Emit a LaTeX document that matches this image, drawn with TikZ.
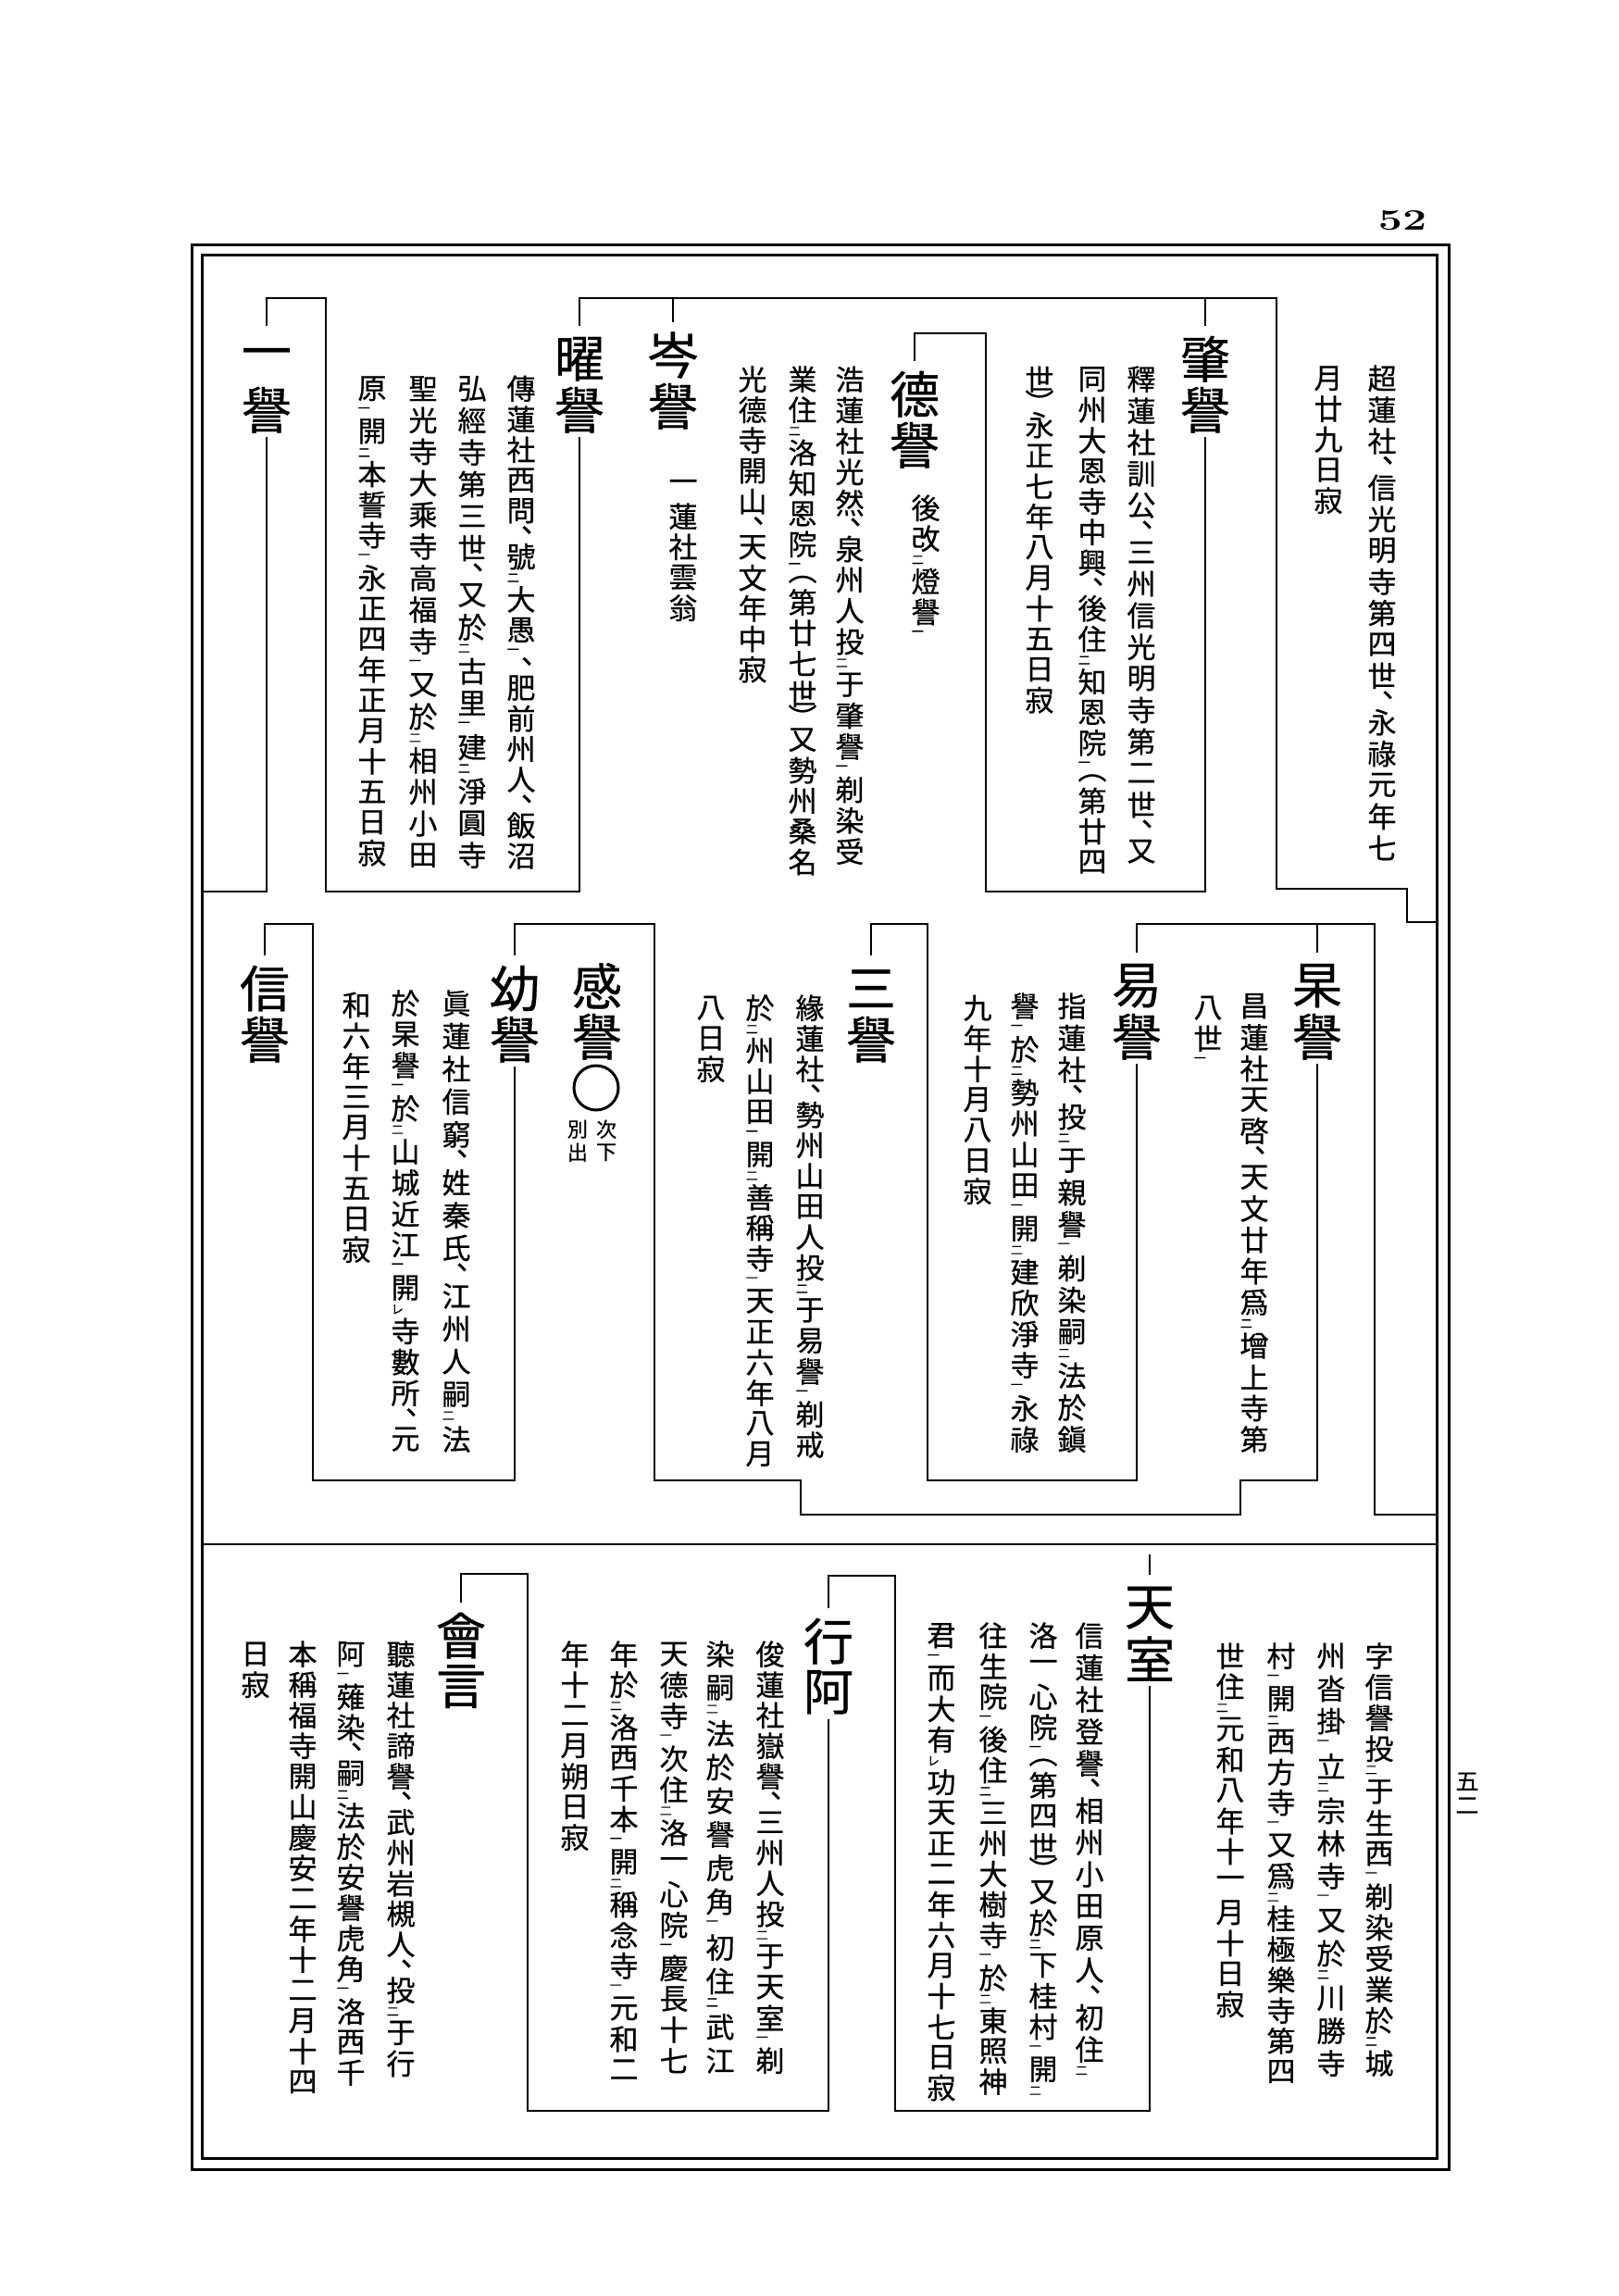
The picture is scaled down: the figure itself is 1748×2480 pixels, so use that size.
\documentclass[tikz,border=0pt]{standalone}
\usepackage{graphicx}
\usepackage{fontspec}
\newfontfamily\cjk[FakeBold=0.6]{Noto Sans CJK JP}
\newlength\vcw \newlength\vch
\newif\ifvjust
\def\vtEND{}
\def\vtendmac{\vtEND}
\def\kten{}
\newcommand\kf{\fontsize{13}{13}\selectfont}
\def\vtloop#1{\def\vttmp{#1}\ifx\vttmp\vtendmac\else\vtchar#1\relax\expandafter\vtloop\fi}
\def\vtchar#1#2\relax{%
 \ifx\kten#1\vtsmall{#2}\else
 \ifx 、#1\vtcomma{#1}\else
 \ifx ︵#1\vthalf{#1}\else
 \ifx ︶#1\vthalf{#1}\else
 \vtnorm{#1}\fi\fi\fi\fi}
\def\vtnorm#1{\ifvjust\vskip0pt plus1fil\relax\fi\vbox to\vch{\vss\hbox to\vcw{\hss#1\hss}\vss}}
\def\vtsmall#1{\vbox to0.4\vch{\vss\hbox to\vcw{\hskip0.04\vcw{\kf#1}\hss}\vss}}
\def\vtcomma#1{\vbox to0.5\vch{\kern0pt\hbox to\vcw{\hskip0.5\vcw\rlap{#1}\hss}\vss}}
\def\vthalf#1{\vbox to0.5\vch{\vss\hbox to\vcw{\hss#1\hss}\vss}}
\newcommand\vcN[1]{\vbox{\offinterlineskip\vjustfalse\vtloop#1\vtEND}}
\newcommand\vcJ[2]{\vbox to #1pt{\offinterlineskip\vjusttrue\vskip0pt plus-1fil\relax\vtloop#2\vtEND}}
\newcommand\bodyf{\cjk\fontsize{31}{33}\selectfont\setlength\vcw{33pt}\setlength\vch{33pt}}
\newcommand\headf{\cjk\fontsize{54}{55}\selectfont\setlength\vcw{56pt}\setlength\vch{55pt}}
\newcommand\notef{\cjk\fontsize{22}{24}\selectfont\setlength\vcw{24pt}\setlength\vch{25pt}}
\newcommand\numf{\cjk\fontsize{25}{26}\selectfont\setlength\vcw{26pt}\setlength\vch{26pt}}
\tikzset{
 ln/.style={line width=2.6pt},
 frm/.style={line width=3pt},
 bodyc/.style={anchor=north, inner sep=0pt, font=\bodyf},
 headc/.style={anchor=north, inner sep=0pt, font=\headf},
 notec/.style={anchor=north, inner sep=0pt, font=\notef},
 numc/.style={anchor=north, inner sep=0pt, font=\numf},
}
\begin{document}
\begin{tikzpicture}[x=1pt,y=-1pt]
\useasboundingbox (0,0) rectangle (1748,2480);
\fill[white] (0,0) rectangle (1748,2480);
% frame
\draw[frm] (207,265) rectangle (1565,2343);
\draw[frm] (218,276) rectangle (1552,2331);
\draw[ln] (218,1668) -- (1552,1668);
\node[font=\fontsize{32}{32}\selectfont\bfseries] (pn) at (1515,238) {\scalebox{1.45}[1]{52}};
\node[numc] (pj) at (1585,1911) {\vcN{五二}};

% ---------- top section ----------
\node[bodyc] (tA1) at (1493,392) {\vcJ{540}{超蓮社、信光明寺第四世、永祿元年七}};
\node[bodyc] (tA2) at (1435,392) {\vcN{月廿九日寂}};
\node[headc] (hZhao) at (1302,360) {\vcN{肇譽}};
\node[bodyc] (tZ1) at (1233,393) {\vcJ{543}{釋蓮社訓公、三州信光明寺第二世、又}};
\node[bodyc] (tZ2) at (1180,393) {\vcJ{543}{同州大恩寺中興、後住{\kten 二}知恩院{\kten 一}︵第廿四}};
\node[bodyc] (tZ3) at (1123,393) {\vcN{世︶永正七年八月十五日寂}};
\node[headc] (hDe) at (988,398) {\vcN{德譽}};
\node[bodyc] (tDn) at (1000,532) {\vcN{後改{\kten 二}燈譽{\kten 一}}};
\node[bodyc] (tD1) at (918,393) {\vcJ{543}{浩蓮社光然、泉州人投{\kten 二}于肇譽{\kten 一}剃染受}};
\node[bodyc] (tD2) at (867,393) {\vcJ{543}{業住{\kten 二}洛知恩院{\kten 一}︵第廿七世︶又勢州桑名}};
\node[bodyc] (tD3) at (813,393) {\vcN{光德寺開山、天文年中寂}};
\node[headc] (hCen) at (727,356) {\vcN{岑譽}};
\node[bodyc] (tCn) at (738,508) {\vcN{一蓮社雲翁}};
\node[headc] (hYao) at (626,360) {\vcN{曜譽}};
\node[bodyc] (tY1) at (563,403) {\vcJ{537}{傳蓮社西問、號{\kten 二}大愚{\kten 一}、肥前州人、飯沼}};
\node[bodyc] (tY2) at (510,403) {\vcJ{537}{弘經寺第三世、又於{\kten 二}古里{\kten 一}建{\kten 二}淨圓寺}};
\node[bodyc] (tY3) at (457,403) {\vcJ{537}{聖光寺大乘寺高福寺{\kten 一}又於{\kten 二}相州小田}};
\node[bodyc] (tY4) at (402,403) {\vcJ{519}{原{\kten 一}開{\kten 二}本誓寺{\kten 一}永正四年正月十五日寂}};
\node[headc] (hYi) at (288,360) {\vcN{一譽}};

\coordinate (t1) at (1379,322);
\coordinate (t2) at (1520,960);
\coordinate (t3) at (1552,996);
\draw[ln] ([yshift=8pt]hYao.north) |- (t1) |- (t2) |- (t3);
\draw[ln] (hZhao.north |- t1) -- ([yshift=8pt]hZhao.north);
\draw[ln] (hCen.north |- t1) -- ([yshift=8pt]hCen.north);
\coordinate (z1) at (1065,963);
\coordinate (z2) at (988,360);
\draw[ln] ([yshift=-2pt]hZhao.south) |- (z1) |- (z2) -- ([yshift=8pt]hDe.north);
\coordinate (y1) at (352,963);
\coordinate (y2) at (288,322);
\draw[ln] ([yshift=-2pt]hYao.south) |- (y1) |- (y2) -- ([yshift=8pt]hYi.north);
\coordinate (yi1) at (218,963);
\draw[ln] ([yshift=-2pt]hYi.south) |- (yi1);

% ---------- middle section ----------
\node[headc] (hGao) at (1423,1037) {\vcN{杲譽}};
\node[bodyc] (tG1) at (1355,1070) {\vcJ{501}{昌蓮社天啓、天文廿年爲{\kten 二}增上寺第}};
\node[bodyc] (tG2) at (1305,1072) {\vcN{八世{\kten 一}}};
\node[headc] (hYi2) at (1228,1037) {\vcN{易譽}};
\node[bodyc] (tE1) at (1158,1070) {\vcJ{501}{指蓮社、投{\kten 二}于親譽{\kten 一}剃染嗣{\kten 二}法於鎭}};
\node[bodyc] (tE2) at (1107,1070) {\vcJ{501}{譽{\kten 一}於{\kten 二}勢州山田{\kten 一}開{\kten 二}建欣淨寺{\kten 一}永祿}};
\node[bodyc] (tE3) at (1056,1072) {\vcN{九年十月八日寂}};
\node[headc] (hSan) at (941,1040) {\vcN{三譽}};
\node[bodyc] (tS1) at (875,1072) {\vcJ{499}{緣蓮社、勢州山田人投{\kten 二}于易譽{\kten 一}剃戒}};
\node[bodyc] (tS2) at (821,1072) {\vcJ{499}{於{\kten 二}州山田{\kten 一}開{\kten 二}善稱寺{\kten 一}天正六年八月}};
\node[bodyc] (tS3) at (768,1072) {\vcN{八日寂}};
\node[headc] (hGan) at (645,1037) {\vcN{感譽}};
\node[draw, circle, line width=3pt, minimum size=48pt, inner sep=0pt] (circ) at (644,1175) {};
\node[notec] (nA) at (655,1207) {\vcN{次下}};
\node[notec] (nB) at (624,1207) {\vcN{別出}};
\node[headc] (hYou) at (556,1040) {\vcN{幼譽}};
\node[bodyc] (tU1) at (493,1067) {\vcJ{504}{眞蓮社信窮、姓秦氏、江州人嗣{\kten 二}法}};
\node[bodyc] (tU2) at (438,1067) {\vcJ{504}{於杲譽{\kten 一}於{\kten 二}山城近江{\kten 一}開{\kten レ}寺數所、元}};
\node[bodyc] (tU3) at (385,1069) {\vcN{和六年三月十五日寂}};
\node[headc] (hXin) at (286,1040) {\vcN{信譽}};

\coordinate (m1) at (1485,998);
\coordinate (m2) at (1552,1636);
\draw[ln] ([yshift=8pt]hYi2.north) |- (m1) |- (m2);
\draw[ln] (hGao.north |- m1) -- ([yshift=8pt]hGao.north);
\coordinate (g1) at (1340,1599);
\coordinate (g2) at (865,1636);
\coordinate (g3) at (707,1599);
\coordinate (g4) at (556,998);
\draw[ln] ([yshift=-2pt]hGao.south) |- (g1) |- (g2) |- (g3) |- (g4) -- ([yshift=8pt]hYou.north);
\coordinate (e1) at (1002,1599);
\coordinate (e2) at (941,998);
\draw[ln] ([yshift=-2pt]hYi2.south) |- (e1) |- (e2) -- ([yshift=8pt]hSan.north);
\coordinate (u1) at (338,1599);
\coordinate (u2) at (286,998);
\draw[ln] ([yshift=-2pt]hYou.south) |- (u1) |- (u2) -- ([yshift=8pt]hXin.north);

% ---------- bottom section ----------
\node[bodyc] (tR1) at (1490,1772) {\vcJ{473}{字信譽投{\kten 二}于生西{\kten 一}剃染受業於{\kten 二}城}};
\node[bodyc] (tR2) at (1438,1772) {\vcJ{473}{州沓掛{\kten 一}立{\kten 二}宗林寺{\kten 一}又於{\kten 二}川勝寺}};
\node[bodyc] (tR3) at (1384,1772) {\vcJ{473}{村{\kten 一}開{\kten 二}西方寺{\kten 一}又爲{\kten 二}桂極樂寺第四}};
\node[bodyc] (tR4) at (1329,1772) {\vcN{世住{\kten 二}元和八年十一月十日寂}};
\node[headc] (hTian) at (1242,1709) {\vcN{天室}};
\node[bodyc] (tT1) at (1177,1750) {\vcJ{493}{信蓮社登譽、相州小田原人、初住{\kten 二}}};
\node[bodyc] (tT2) at (1127,1750) {\vcJ{493}{洛一心院{\kten 一}︵第四世︶又於{\kten 二}下桂村{\kten 一}開{\kten 二}}};
\node[bodyc] (tT3) at (1073,1750) {\vcJ{493}{往生院{\kten 一}後住{\kten 二}三州大樹寺{\kten 一}於{\kten 二}東照神}};
\node[bodyc] (tT4) at (1017,1750) {\vcJ{493}{君{\kten 一}而大有{\kten レ}功天正二年六月十七日寂}};
\node[headc] (hXing) at (895,1745) {\vcN{行阿}};
\node[bodyc] (tX1) at (832,1770) {\vcJ{472}{俊蓮社嶽譽、三州人投{\kten 二}于天室{\kten 一}剃}};
\node[bodyc] (tX2) at (778,1770) {\vcJ{472}{染嗣{\kten 二}法於安譽虎角{\kten 一}初住{\kten 二}武江}};
\node[bodyc] (tX3) at (728,1770) {\vcJ{472}{天德寺{\kten 一}次住{\kten 二}洛一心院{\kten 一}慶長十七}};
\node[bodyc] (tX4) at (674,1770) {\vcJ{472}{年於{\kten 二}洛西千本{\kten 一}開{\kten 二}稱念寺{\kten 一}元和二}};
\node[bodyc] (tX5) at (621,1770) {\vcN{年十二月朔日寂}};
\node[headc] (hHui) at (498,1739) {\vcN{會言}};
\node[bodyc] (tH1) at (433,1770) {\vcJ{472}{聽蓮社諦譽、武州岩槻人、投{\kten 二}于行}};
\node[bodyc] (tH2) at (379,1770) {\vcJ{472}{阿{\kten 一}薙染、嗣{\kten 二}法於安譽虎角{\kten 一}洛西千}};
\node[bodyc] (tH3) at (327,1770) {\vcJ{472}{本稱福寺開山慶安二年十二月十四}};
\node[bodyc] (tH4) at (276,1770) {\vcN{日寂}};

\draw[ln] ([yshift=8pt]hTian.north) -- ++(0,-22);
\coordinate (a1) at (967,2280);
\coordinate (a2) at (895,1702);
\draw[ln] ([yshift=-2pt]hTian.south) |- (a1) |- (a2) -- ([yshift=8pt]hXing.north);
\coordinate (b1) at (570,2280);
\coordinate (b2) at (498,1700);
\draw[ln] ([yshift=-2pt]hXing.south) |- (b1) |- (b2) -- ([yshift=8pt]hHui.north);
\end{tikzpicture}
\end{document}
